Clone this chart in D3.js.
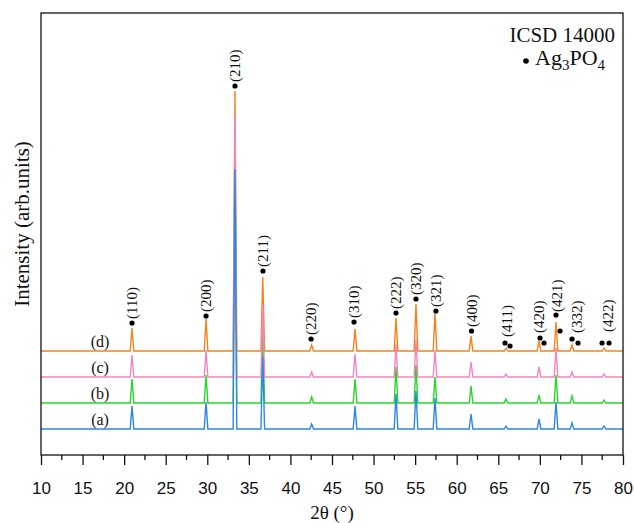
<!DOCTYPE html>
<html>
<head>
<meta charset="utf-8">
<script src="https://cdn.jsdelivr.net/npm/d3@7"></script>
<style>
  body { margin: 0; background: #fff; }
  text { fill: #111; }
</style>
</head>
<body>
<div id="chart"></div>
<script>
const width = 634;
const height = 523;

const marginLeft = 41;
const marginRight = 11;
const marginTop = 13;
const marginBottom = 68;

// peak positions (2theta) of Ag3PO4, ICSD 14000
const peakPos = [20.95, 29.85, 33.33, 36.67, 42.55, 47.77, 52.7, 55.1, 57.39, 61.72, 65.93, 69.9, 71.94, 73.87, 77.72];

// peak heights of each sample (arb. units)
const heightsA = [23, 27, 260, 72, 5, 23, 35, 38, 31, 15, 3, 10, 27, 6, 3];
const heightsB = [24, 28, 258, 72, 6, 24, 36, 38, 26, 17, 4, 8, 28, 7, 3];
const heightsC = [22, 27, 262, 72, 5, 23, 33, 37, 27, 15, 3, 10, 29, 5, 3];
const heightsD = [23, 32, 260, 74, 6, 22, 33, 47, 38, 15, 3, 10, 29, 6, 3];

const seriesNames = ["(a)", "(b)", "(c)", "(d)"];
const seriesOffset = [26, 52, 78, 104];

// hkl labels above pattern (d)
const hklText = ["(110)", "(200)", "(210)", "(211)", "(220)", "(310)", "(222)", "(320)", "(321)", "(400)", "(411)", "(420)", "(421)", "(332)", "(422)"];
const hklX = [20.95, 29.85, 33.33, 36.7, 42.48, 47.65, 52.7, 55.1, 57.5, 61.78, 66.05, 69.9, 72.06, 74.47, 78.2];
const hklY = [136, 143, 373, 188, 120, 137, 146, 160, 148, 128, 118, 122, 143, 122, 123];

// marker dots (2theta, intensity)
const dotX = [20.95, 29.85, 33.33, 36.7, 42.48, 47.65, 52.7, 55.1, 57.5, 61.78, 65.81, 66.41, 70.02, 70.5, 71.94, 72.43, 73.87, 74.59, 77.48, 78.32];
const dotY = [132, 139, 369, 184, 116, 133, 142, 156, 144, 124, 112, 109, 117, 112, 140, 124, 116, 112, 112, 112];

const xTickValues = [10, 15, 20, 25, 30, 35, 40, 45, 50, 55, 60, 65, 70, 75, 80];
const xMinorValues = [12.5, 17.5, 22.5, 27.5, 32.5, 37.5, 42.5, 47.5, 52.5, 57.5, 62.5, 67.5, 72.5, 77.5];

const colors = ["#2d86e6", "#27d727", "#f285c0", "#f4821f"];

const innerW = width - marginLeft - marginRight;
const innerH = height - marginTop - marginBottom;

const svg = d3.select("#chart").append("svg")
  .attr("width", width).attr("height", height)
  .style("font-family", "'Liberation Serif', 'Times New Roman', serif");

const g = svg.append("g").attr("transform", `translate(${marginLeft}, ${marginTop})`);

const x = d3.scaleLinear().domain([10, 80]).range([0, innerW]);
const y = d3.scaleLinear().domain([0, innerH]).range([innerH, 0]);

// build each pattern: flat baseline with narrow peaks
const halfW = 0.22;
const allHeights = [heightsA, heightsB, heightsC, heightsD];
const series = allHeights.map((hs, i) => {
  const off = seriesOffset[i];
  const pts = [[10, off]];
  peakPos.forEach((p, k) => {
    pts.push([p - halfW, off], [p, off + hs[k]], [p + halfW, off]);
  });
  pts.push([80, off]);
  return { name: seriesNames[i], color: colors[i], off: off, pts: pts };
});

const line = d3.line().x(d => x(d[0])).y(d => y(d[1]));

// drawing order: d, b, c, a
const order = [3, 1, 2, 0];
g.selectAll(".pattern")
  .data(order.map(i => series[i]))
  .join("path")
    .attr("class", "pattern")
    .attr("fill", "none")
    .attr("stroke", d => d.color)
    .attr("stroke-width", 1.4)
    .attr("d", d => line(d.pts));

// series labels
g.selectAll(".slabel")
  .data(series)
  .join("text")
    .attr("class", "slabel")
    .attr("x", x(17.1))
    .attr("y", d => y(d.off) - 4)
    .attr("text-anchor", "middle")
    .attr("font-size", 16)
    .text(d => d.name);

// dots
g.selectAll(".dot")
  .data(dotX.map((v, i) => [v, dotY[i]]))
  .join("circle")
    .attr("class", "dot")
    .attr("cx", d => x(d[0]))
    .attr("cy", d => y(d[1]))
    .attr("r", 2.6)
    .attr("fill", "#000");

// hkl labels, vertical
g.selectAll(".hkl")
  .data(hklText.map((t, i) => ({ t: t, x: hklX[i], y: hklY[i] })))
  .join("text")
    .attr("class", "hkl")
    .attr("transform", d => `translate(${x(d.x)}, ${y(d.y)}) rotate(-90)`)
    .attr("dy", "0.35em")
    .attr("font-size", 15)
    .text(d => d.t);

// frame
g.append("rect")
  .attr("width", innerW).attr("height", innerH)
  .attr("fill", "none").attr("stroke", "#111").attr("stroke-width", 1.3);

// x axis
const xAxis = g.append("g")
  .attr("transform", `translate(0, ${innerH})`)
  .call(d3.axisBottom(x).tickValues(xTickValues).tickSize(10).tickPadding(17).tickFormat(d3.format("d")));
xAxis.select(".domain").remove();
xAxis.selectAll("line").attr("stroke", "#111").attr("stroke-width", 1.3);
xAxis.selectAll("text")
  .attr("font-family", "'Liberation Sans', Arial, sans-serif")
  .attr("font-size", 17)
  .attr("fill", "#111");

g.append("g")
  .attr("transform", `translate(0, ${innerH})`)
  .selectAll("line")
  .data(xMinorValues)
  .join("line")
    .attr("x1", d => x(d)).attr("x2", d => x(d))
    .attr("y1", 0).attr("y2", 5)
    .attr("stroke", "#111").attr("stroke-width", 1.3);

// axis titles
svg.append("text")
  .attr("x", marginLeft + innerW / 2)
  .attr("y", 519)
  .attr("text-anchor", "middle")
  .attr("font-size", 19)
  .text("2θ (°)");

svg.append("text")
  .attr("transform", `translate(22, 224) rotate(-90)`)
  .attr("dy", "0.35em")
  .attr("text-anchor", "middle")
  .attr("font-size", 21)
  .text("Intensity (arb.units)");

// legend
svg.append("text")
  .attr("x", 615).attr("y", 42)
  .attr("text-anchor", "end")
  .attr("font-size", 21)
  .text("ICSD 14000");

svg.append("circle")
  .attr("cx", 526).attr("cy", 61).attr("r", 2.8).attr("fill", "#000");

const leg = svg.append("text")
  .attr("x", 535).attr("y", 65)
  .attr("font-size", 22);
leg.append("tspan").text("Ag");
leg.append("tspan").attr("font-size", 15).attr("dy", 5).text("3");
leg.append("tspan").attr("dy", -5).text("PO");
leg.append("tspan").attr("font-size", 15).attr("dy", 5).text("4");
</script>
</body>
</html>
